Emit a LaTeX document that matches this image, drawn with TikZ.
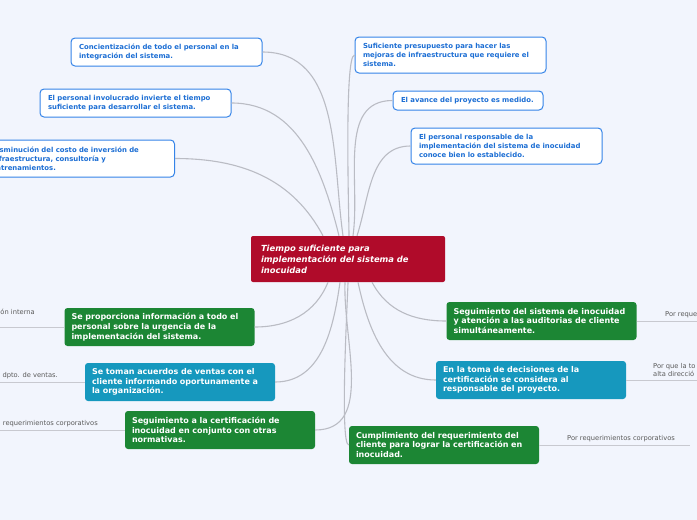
\documentclass[tikz,border=0pt]{standalone}
\usepackage{fontspec}
\newfontfamily\mapfont{DejaVu Sans}
\usetikzlibrary{positioning}
\definecolor{fondo}{HTML}{F2F5FD}
\definecolor{rojo}{HTML}{B00B2A}
\definecolor{verde}{HTML}{1C8634}
\definecolor{turquesa}{HTML}{1698BE}
\definecolor{azul}{HTML}{3584E8}
\definecolor{azultexto}{HTML}{1C6ED4}
\definecolor{ramagris}{HTML}{BABCC4}
\definecolor{notagris}{HTML}{5A5A5A}
\tikzset{
  idea/.style={draw=azul, fill=white, line width=1pt, rounded corners=4pt,
    text=azultexto, font=\mapfont\bfseries\fontsize{6.9}{8.8}\selectfont,
    align=left, text width=175pt, minimum width=191pt, inner xsep=8pt, inner ysep=3pt},
  tema/.style={fill=verde, rounded corners=3pt, text=white,
    font=\mapfont\bfseries\fontsize{8}{9.8}\selectfont,
    align=left, text width=176pt, minimum width=190pt, minimum height=38pt, inner xsep=7pt},
  centro/.style={fill=rojo, rounded corners=2pt, text=white,
    font=\mapfont\bfseries\itshape\fontsize{8.4}{11}\selectfont,
    align=left, text width=174pt, minimum width=194pt, minimum height=46pt, inner xsep=10pt},
  nota/.style={text=notagris, font=\mapfont\fontsize{6.7}{8}\selectfont, align=left, inner sep=0pt},
  rama/.style={draw=ramagris, line width=1.1pt},
  linea/.style={draw=ramagris!80, line width=1pt}
}
\begin{document}
\begin{tikzpicture}[x=1pt,y=-1pt]
  \useasboundingbox (0,0) rectangle (697,520);
  \fill[fondo] (0,0) rectangle (697,520);

  % idea central
  \node[centro] (tiempo) at (348,259) {Tiempo suficiente para\\implementación del sistema de\\inocuidad};

  % ideas de arriba
  \node[idea, minimum height=28pt] (concien) at (166.5,52) {Concientización de todo el personal en la\\integración del sistema.};
  \node[idea, minimum height=28pt] (invierte) at (135.5,103) {El personal involucrado invierte el tiempo\\suficiente para desarrollar el sistema.};
  \node[idea, minimum height=37pt] (costo) at (79,158.5) {Disminución del costo de inversión de\\infraestructura, consultoría y\\entrenamientos.};
  \node[idea, minimum height=36pt] (presu) at (450.5,55) {Suficiente presupuesto para hacer las\\mejoras de infraestructura que requiere el\\sistema.};
  \node[idea, minimum height=19pt, minimum width=150pt, text width=134pt] (avance) at (468,100.5) {El avance del proyecto es medido.};
  \node[idea, minimum height=36pt] (respon) at (506.5,146) {El personal responsable de la\\implementación del sistema de inocuidad\\conoce bien lo establecido.};

  % ideas de abajo
  \node[tema] (informa) at (159.5,327) {Se proporciona información a todo el\\personal sobre la urgencia de la\\implementación del sistema.};
  \node[tema, fill=turquesa] (ventas) at (180,382) {Se toman acuerdos de ventas con el\\cliente informando oportunamente a\\la organización.};
  \node[tema] (segcert) at (220,430) {Seguimiento a la certificación de\\inocuidad en conjunto con otras\\normativas.};
  \node[tema] (segsis) at (541.5,321) {Seguimiento del sistema de inocuidad\\y atención a las auditorias de cliente\\simultáneamente.};
  \node[tema, fill=turquesa] (decide) at (531,380) {En la toma de decisiones de la\\certificación se considera al\\responsable del proyecto.};
  \node[tema] (cumple) at (444,445) {Cumplimiento del requerimiento del\\cliente para lograr la certificación en\\inocuidad.};

  % ramas
  \draw[rama] ([xshift=-25pt]tiempo.north) to[out=118,in=0] (costo.east);
  \draw[rama] ([xshift=-9pt]tiempo.north) to[out=104,in=0] (invierte.east);
  \draw[rama] ([xshift=-5pt]tiempo.north) to[out=98,in=0] (concien.east);
  \draw[rama] ([xshift=1pt]tiempo.north) to[out=89,in=180,looseness=0.15] (presu.west);
  \draw[rama] ([xshift=5pt]tiempo.north) to[out=82,in=180] (avance.west);
  \draw[rama] ([xshift=9pt]tiempo.north) to[out=72,in=180] (respon.west);
  \draw[rama] ([xshift=-20pt]tiempo.south) to[out=-112,in=0] (informa.east);
  \draw[rama] ([xshift=-8pt]tiempo.south) to[out=-98,in=0] (ventas.east);
  \draw[rama] ([xshift=-3pt]tiempo.south) to[out=-92,in=0] (segcert.east);
  \draw[rama] (tiempo.south) to[out=-90,in=180,looseness=0.15] (cumple.west);
  \draw[rama] ([xshift=10pt]tiempo.south) to[out=-78,in=180] (decide.west);
  \draw[rama] ([xshift=24pt]tiempo.south) to[out=-62,in=180] (segsis.west);

  % notas
  \node[nota, anchor=east] (n1) at (35,312) {ón interna};
  \coordinate (f1) at (0,327);
  \draw[linea] (informa.west) -- (f1);
  \node[nota, anchor=east] (n2) at (58,376) {dpto. de ventas.};
  \coordinate (f2) at (0,382);
  \draw[linea] (ventas.west) -- (f2);
  \node[nota, anchor=east] (n3) at (98,424) {requerimientos corporativos};
  \coordinate (f3) at (0,430);
  \draw[linea] (segcert.west) -- (f3);
  \node[nota, anchor=west] (n4) at (665,315) {Por reque};
  \coordinate (f4) at (697,321);
  \draw[linea] (segsis.east) -- (f4);
  \node[nota, anchor=west] (n5) at (653,370) {Por que la to\\alta direcció};
  \coordinate (f5) at (697,380);
  \draw[linea] (decide.east) -- (f5);
  \node[nota, anchor=west] (n6) at (567,439) {Por requerimientos corporativos};
  \coordinate (f6) at (690,445);
  \draw[linea] (cumple.east) -- (f6);
\end{tikzpicture}
\end{document}
